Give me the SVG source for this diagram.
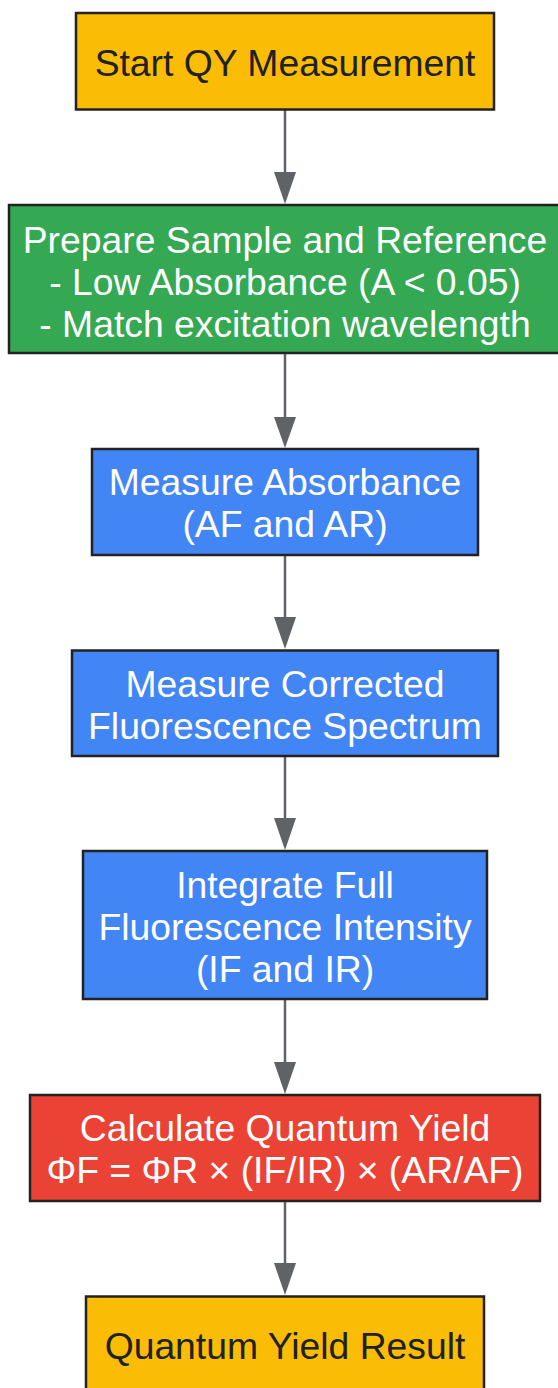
<svg xmlns="http://www.w3.org/2000/svg" width="558" height="1388" viewBox="0 0 558 1388">
<style>
.box{stroke:#222;stroke-width:2.5}
.y{fill:#FBBC05}.g{fill:#34A853}.b{fill:#4285F4}.r{fill:#EA4335}
text{font-family:"Liberation Sans",Arial,sans-serif;font-size:37.3px;text-anchor:middle}
.dk{fill:#202124}.wt{fill:#ffffff}
.edge{stroke:#5F6368;stroke-width:2.5;fill:none}
.head{fill:#5F6368}
</style>
<g id="connectors">
<path class="edge" d="M285,110 V172"/><path class="head" d="M274,172 H296 L285,204 Z"/>
<path class="edge" d="M285,354 V417"/><path class="head" d="M274,417 H296 L285,448 Z"/>
<path class="edge" d="M285,556 V617"/><path class="head" d="M274,617 H296 L285,649 Z"/>
<path class="edge" d="M285,757 V818"/><path class="head" d="M274,818 H296 L285,850 Z"/>
<path class="edge" d="M285,1000 V1062"/><path class="head" d="M274,1062 H296 L285,1094 Z"/>
<path class="edge" d="M285,1202 V1263"/><path class="head" d="M274,1263 H296 L285,1295 Z"/>
</g>
<g id="start">
<rect class="box y" x="76" y="13" width="418" height="96.5"/>
<text class="dk" x="285" y="76">Start QY Measurement</text>
</g>
<g id="prepare">
<rect class="box g" x="9" y="205" width="552" height="148"/>
<text class="wt" x="285" y="252.5">Prepare Sample and Reference</text>
<text class="wt" x="285" y="294.5">- Low Absorbance (A &lt; 0.05)</text>
<text class="wt" x="285" y="336.5">- Match excitation wavelength</text>
</g>
<g id="absorbance">
<rect class="box b" x="92" y="449" width="386" height="106"/>
<text class="wt" x="285" y="494.5">Measure Absorbance</text>
<text class="wt" x="285" y="536.5">(AF and AR)</text>
</g>
<g id="fluorescence">
<rect class="box b" x="72" y="650.5" width="426" height="105.5"/>
<text class="wt" x="285" y="696.5">Measure Corrected</text>
<text class="wt" x="285" y="738.5">Fluorescence Spectrum</text>
</g>
<g id="integrate">
<rect class="box b" x="83" y="851" width="404" height="148"/>
<text class="wt" x="285" y="898">Integrate Full</text>
<text class="wt" x="285" y="940">Fluorescence Intensity</text>
<text class="wt" x="285" y="982">(IF and IR)</text>
</g>
<g id="calculate">
<rect class="box r" x="30" y="1095" width="510" height="106"/>
<text class="wt" x="285" y="1141">Calculate Quantum Yield</text>
<text class="wt" x="285" y="1183">ΦF = ΦR × (IF/IR) × (AR/AF)</text>
</g>
<g id="result">
<rect class="box y" x="86" y="1296.5" width="398" height="96.5"/>
<text class="dk" x="285" y="1359">Quantum Yield Result</text>
</g>
</svg>
